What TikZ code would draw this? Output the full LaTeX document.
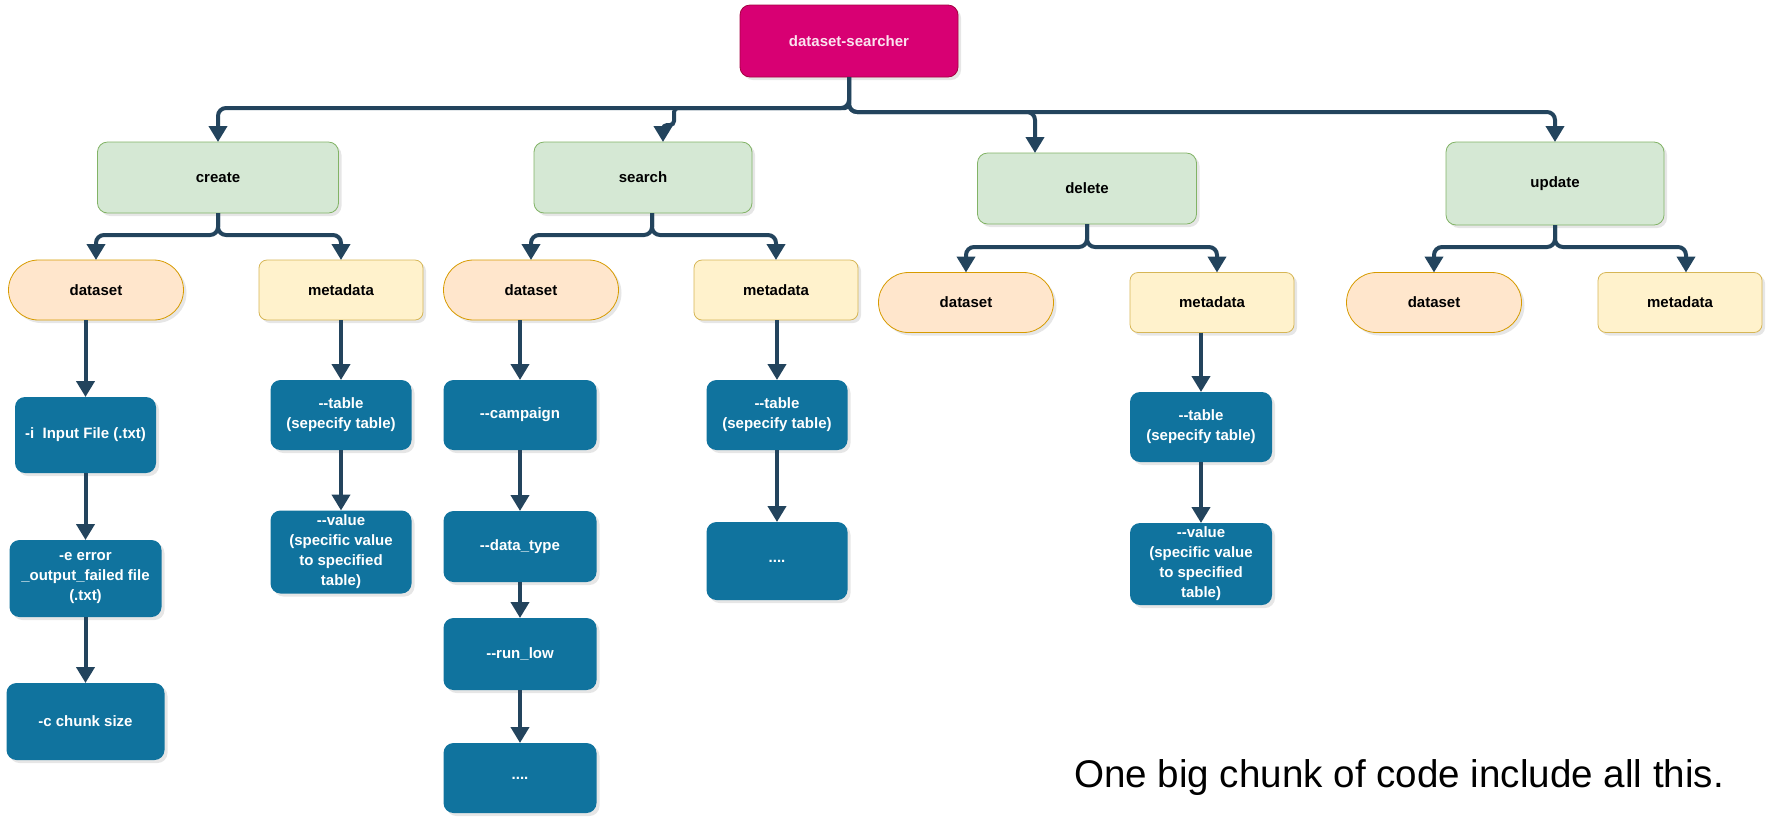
\documentclass[tikz,border=0pt]{standalone}
\usepackage{fontspec}
\setsansfont{Liberation Sans}
\usetikzlibrary{positioning,arrows.meta,shadows}

\definecolor{rootfill}{HTML}{D80073}
\definecolor{rootline}{HTML}{A50040}
\definecolor{roottext}{HTML}{FBE3EF}
\definecolor{actfill}{HTML}{D5E8D4}
\definecolor{actline}{HTML}{82B366}
\definecolor{objfill}{HTML}{FFE6CC}
\definecolor{objline}{HTML}{D79B00}
\definecolor{metafill}{HTML}{FFF2CC}
\definecolor{metaline}{HTML}{D6B656}
\definecolor{flagfill}{HTML}{10739E}
\definecolor{linkcol}{HTML}{23445D}
\newcommand{\dbl}{-\kern0pt-}

\begin{document}
\begin{tikzpicture}
[x=0.5pt,y=-0.5pt,
 every node/.style={font=\sffamily\bfseries\fontsize{7.5}{10}\selectfont,align=center,inner sep=0pt,outer sep=0pt},
 box/.style={rectangle,drop shadow={shadow xshift=1.5pt,shadow yshift=-1.5pt,opacity=0.2}},
 top/.style={box,draw=rootline,fill=rootfill,text=roottext,rounded corners=5pt,minimum width=109pt,minimum height=36pt},
 action/.style={box,draw=actline,fill=actfill,rounded corners=5pt,minimum width=109pt,minimum height=35.5pt},
 target/.style={box,draw=objline,fill=objfill,rounded corners=15pt,minimum width=87.5pt,minimum height=30pt},
 meta/.style={box,draw=metaline,fill=metafill,rounded corners=4pt,minimum width=82pt,minimum height=30pt},
 flag/.style={box,fill=flagfill,text=white,rounded corners=5pt,minimum width=70.5pt,minimum height=35pt},
 link/.style={draw=linkcol,line width=2pt,rounded corners=4pt,-{Triangle[width=9pt,length=8pt]}}]
\useasboundingbox (0,0) rectangle (1769,816);

\node[top] (root) at (849,41) {dataset-searcher};

\node[action,minimum width=120.5pt] (create) at (218,177.5)  {create};
\node[action]                       (search) at (643,177.5)  {search};
\node[action,minimum width=109.5pt] (delete) at (1087,188.5) {delete};
\node[action,minimum height=41.5pt] (update) at (1555,183.5) {update};

\node[target] (cD) at (96,290)     {dataset};
\node[meta]   (cM) at (341,290)    {metadata};
\node[target] (sD) at (531,290)    {dataset};
\node[meta]   (sM) at (776,290)    {metadata};
\node[target] (dD) at (966,302.5)  {dataset};
\node[meta]   (dM) at (1212,302.5) {metadata};
\node[target] (uD) at (1434,302.5) {dataset};
\node[meta]   (uM) at (1680,302.5) {metadata};

\node[flag,minimum height=38pt] (cD1) at (85.5,435) {-i\ \ Input File (.txt)};
\node[flag,minimum width=76pt,minimum height=38.5pt] (cD2) [on grid,below=71.75pt of cD1] {-e error\\\_output\_failed file\\(.txt)};
\node[flag,minimum width=79pt,minimum height=38.5pt] (cD3) [on grid,below=71.5pt of cD2]  {-c chunk size};

\node[flag] (cM1) at (341,415) {\dbl table\\(sepecify table)};
\node[flag,minimum height=41.5pt] (cM2) [on grid,below=68.5pt of cM1] {\dbl value\\(specific value\\to specified\\table)};

\node[flag,minimum width=76.5pt] (sD1) at (520,415) {\dbl campaign};
\node[flag,minimum width=76.5pt,minimum height=35.5pt] (sD2) [on grid,below=65.75pt of sD1] {\dbl data\_type};
\node[flag,minimum width=76.5pt,minimum height=36pt]   (sD3) [on grid,below=53.75pt of sD2] {\dbl run\_low};
\node[flag,minimum width=76.5pt]                       (sD4) [on grid,below=62pt of sD3]    {....};

\node[flag] (sM1) at (777,415) {\dbl table\\(sepecify table)};
\node[flag,minimum height=39pt] (sM2) [on grid,below=73pt of sM1] {....};

\node[flag,minimum width=71pt] (dM1) at (1201,427) {\dbl table\\(sepecify table)};
\node[flag,minimum width=71pt,minimum height=41pt] (dM2) [on grid,below=68.5pt of dM1] {\dbl value\\(specific value\\to specified\\table)};

\node[anchor=base west,font=\sffamily\fontsize{19.3}{23}\selectfont] (note) at (1074,787) {One big chunk of code include all this.};

% root to commands
\draw[link] (root.south) -- ++(0,31) -| (create.north);
\draw[link,rounded corners=2pt] (root.south) -- ++(0,31) -| ([shift={(31,-17)}]search.north) -- ++(-11,0) -- ([xshift=10pt]search.north);
\draw[link] (root.south) -- ++(0,35) -| ([xshift=-26pt]delete.north);
\draw[link] (root.south) -- ++(0,35) -| (update.north);

% commands to targets
\draw[link] (create.south) -- ++(0,22) -| (cD.north);
\draw[link] (create.south) -- ++(0,22) -| (cM.north);
\draw[link] ([xshift=4.5pt]search.south) -- ++(0,22) -| (sD.north);
\draw[link] ([xshift=4.5pt]search.south) -- ++(0,22) -| (sM.north);
\draw[link] (delete.south) -- ++(0,23) -| (dD.north);
\draw[link] (delete.south) -- ++(0,23) -| ([xshift=2.5pt]dM.north);
\draw[link] (update.south) -- ++(0,22) -| (uD.north);
\draw[link] (update.south) -- ++(0,22) -| ([xshift=3pt]uM.north);

% options
\draw[link] (cD1.north |- cD.south) -- (cD1);
\draw[link] (cD1) -- (cD2);
\draw[link] (cD2) -- (cD3);
\draw[link] (cM) -- (cM1);
\draw[link] (cM1) -- (cM2);
\draw[link] (sD1.north |- sD.south) -- (sD1);
\draw[link] (sD1) -- (sD2);
\draw[link] (sD2) -- (sD3);
\draw[link] (sD3) -- (sD4);
\draw[link] (sM1.north |- sM.south) -- (sM1);
\draw[link] (sM1) -- (sM2);
\draw[link] (dM1.north |- dM.south) -- (dM1);
\draw[link] (dM1) -- (dM2);
\end{tikzpicture}
\end{document}
